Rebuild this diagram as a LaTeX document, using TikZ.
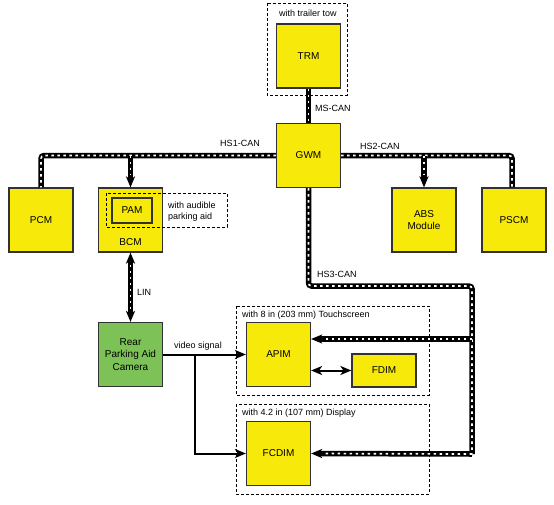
\documentclass[tikz,border=0pt]{standalone}
\usepackage{fontspec}
\setmainfont{Liberation Sans}
\usetikzlibrary{arrows.meta}
\definecolor{modyellow}{RGB}{247,234,10}
\definecolor{camgreen}{RGB}{124,194,86}
\definecolor{boxline}{RGB}{50,50,50}
\tikzset{
  >={Stealth[length=11pt,width=9pt,inset=3pt]},
  module/.style={draw=boxline, line width=1.2pt, fill=modyellow, minimum width=64pt,
    minimum height=64pt, inner sep=0pt, align=center, font=\fontsize{10}{12.5}\selectfont},
  option/.style={draw, dash pattern=on 3pt off 2pt, line width=0.8pt},
  lbl/.style={inner sep=0pt, font=\fontsize{9}{11}\selectfont},
  canline/.style={line width=5.5pt, rounded corners=3pt},
  candash/.style={draw=white, line width=1.7pt, dash pattern=on 2.5pt off 3.5pt, arrows=-},
  can/.style={canline, postaction={candash}},
  cantip/.style={canline, ->, postaction={candash, shorten >=12pt}},
  canboth/.style={canline, <->, postaction={candash, shorten >=12pt, shorten <=12pt}},
  signal/.style={line width=2pt}
}
\begin{document}
\begin{tikzpicture}[x=1pt, y=-1pt]
  \useasboundingbox (0,0) rectangle (554,504);
  \draw[option] (267,3) rectangle (347,95);
  \draw[option] (236,306) rectangle (429,395);
  \draw[option] (236,404) rectangle (429,494);
  \node[lbl] (towlbl) at (308,13) {with trailer tow};
  \node[lbl, anchor=west] (touchlbl) at (242,315) {with 8 in (203 mm) Touchscreen};
  \node[lbl, anchor=west] (displbl) at (242,413) {with 4.2 in (107 mm) Display};

  \node[module] (trm) at (308.5,56) {TRM};
  \node[module] (gwm) at (308.5,155.5) {GWM};
  \node[module] (pcm) at (41,220) {PCM};
  \node[module] (bcm) at (130.5,220) {};
  \node[module] (abs) at (424,220) {ABS\\Module};
  \node[module] (pscm) at (514,220) {PSCM};
  \node[module, fill=camgreen] (cam) at (130.5,354.5) {Rear\\Parking Aid\\Camera};
  \node[module] (apim) at (278.5,354.5) {APIM};
  \node[module, minimum height=33pt] (fdim) at (384,370.5) {FDIM};
  \node[module] (fcdim) at (278.5,453.5) {FCDIM};
  \node[module, minimum width=40pt, minimum height=25pt, fill=none] (pam) at (132,210.5) {PAM};
  \node[font=\fontsize{10}{12}\selectfont] (bcmtext) at ([yshift=11pt]bcm.south) {BCM};
  \draw[option] (106,193) rectangle (227,227);
  \node[lbl, anchor=west, align=left] (pamlbl) at (168,211.5) {with audible\\parking aid};

  \coordinate (hs3c) at (472,286);
  \coordinate (hs3d) at (472,454);
  \coordinate (vbranch) at (195,354.5);

  \draw[can] (trm.south) -- (gwm.north);
  \draw[can] (gwm.west) -| (pcm.north);
  \draw[cantip] (bcm.north |- gwm.west) -- (bcm.north);
  \draw[can] (gwm.east) -| ([xshift=-2pt]pscm.north);
  \draw[cantip] (abs.north |- gwm.east) -- (abs.north);
  \draw[can] (gwm.south) |- (hs3c) -- (hs3d);
  \draw[cantip] (hs3d) -- (fcdim.east);
  \draw[cantip] ([yshift=15.5pt]apim.east -| hs3c) -- ([yshift=15.5pt]apim.east);
  \draw[canboth] (bcm.south) -- (cam.north);

  \draw[signal, ->] (cam.east) -- (apim.west);
  \draw[signal, ->] (vbranch) |- (fcdim.west);
  \draw[signal, <->] (apim.east |- fdim.west) -- (fdim.west);

  \node[lbl, anchor=west] (mslbl) at (315,108) {MS-CAN};
  \node[lbl] (hs1lbl) at (240,143) {HS1-CAN};
  \node[lbl, anchor=west] (hs2lbl) at (360,146) {HS2-CAN};
  \node[lbl, anchor=west] (hs3lbl) at (317,274) {HS3-CAN};
  \node[lbl, anchor=west] (linlbl) at (137,292) {LIN};
  \node[lbl] (videolbl) at (198,346) {video signal};
\end{tikzpicture}
\end{document}
